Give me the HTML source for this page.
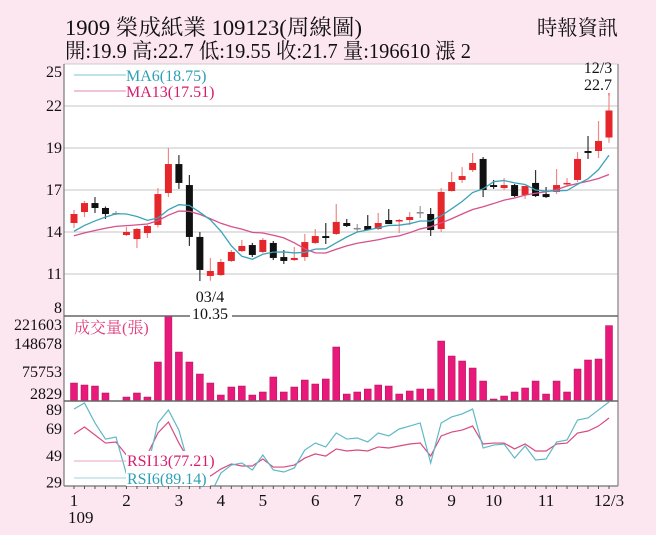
<!DOCTYPE html>
<html><head><meta charset="utf-8">
<style>
html,body{margin:0;padding:0;background:#fce6f0;}
svg{display:block;font-family:"Liberation Serif","Noto Serif CJK SC",serif;}
</style></head>
<body>
<svg id="chart" width="656" height="535" viewBox="0 0 656 535" xmlns="http://www.w3.org/2000/svg">
<rect x="0" y="0" width="656" height="535" fill="#fce6f0"/>
<text x="65" y="35" font-size="22" textLength="297" lengthAdjust="spacingAndGlyphs" fill="#111">1909  榮成紙業 109123(周線圖)</text>
<text x="65" y="58" font-size="21" textLength="406" lengthAdjust="spacingAndGlyphs" fill="#111">開:19.9 高:22.7 低:19.55 收:21.7 量:196610 漲 2</text>
<text x="537" y="35" font-size="21" textLength="81" lengthAdjust="spacingAndGlyphs" fill="#111">時報資訊</text>
<rect x="64" y="64" width="554" height="422" fill="#fff"/>
<g id="grid"></g>
<g id="candles"></g>
<g id="ma"></g>
<g id="vol"></g>
<clipPath id="rsiclip"><rect x="64" y="401" width="554" height="85"/></clipPath>
<g id="rsi" clip-path="url(#rsiclip)"></g>
<g id="frame"></g>
<g id="labels"></g>
</svg>
<script>
const closesPrev=[13.0,13.1,12.9,13.2,13.0,13.1,13.3,13.2,13.4,13.3,13.5,13.7];
const opens=[14.2,14.93,15.53,15.2,14.87,13.4,13.13,13.53,14.07,16.2,18.13,16.73,13.27,10.67,10.73,11.67,12.33,12.73,12.27,12.87,11.93,11.73,11.93,12.87,13.33,13.47,14.2,13.87,14.0,13.8,14.4,14.33,14.4,14.93,14.8,13.8,16.33,17.07,17.73,18.47,16.73,16.53,16.73,16.07,16.87,16.13,16.27,16.8,17.07,19.0,19.0,19.9];
const highs=[15.07,15.67,15.93,15.3,15.0,13.93,13.87,14.07,16.53,19.2,18.73,17.4,13.6,11.87,11.8,12.4,13.07,12.87,13.2,13.0,12.4,12.6,13.47,13.8,14.2,15.47,14.47,14.13,14.73,14.87,15.13,14.47,14.93,15.33,15.2,16.53,17.6,17.93,18.87,18.6,17.07,17.2,16.8,16.67,17.73,16.6,17.8,17.2,18.93,20.0,21.0,22.7];
const lows=[13.87,14.6,14.87,14.47,14.73,13.33,12.53,13.2,13.9,15.93,16.47,12.67,10.33,10.35,10.67,11.6,12.27,11.93,12.2,11.73,11.47,11.67,11.67,12.8,12.8,13.4,13.93,13.6,13.8,13.73,14.13,13.53,14.07,14.53,13.33,13.6,16.3,16.87,17.6,15.93,16.47,16.4,15.93,15.8,15.93,15.87,16.13,16.67,16.93,18.47,18.53,19.55];
const closes=[14.8,15.53,15.2,14.8,14.87,13.6,13.8,14.0,16.13,18.13,16.87,13.27,11.07,11.0,11.6,12.27,12.67,12.07,13.07,11.87,11.67,11.87,12.93,13.33,13.2,14.27,14.0,13.87,13.73,14.2,14.13,14.4,14.6,14.93,13.73,16.27,16.93,17.33,18.2,16.4,16.6,16.73,16.0,16.67,16.0,15.93,16.73,16.87,18.47,18.87,19.67,21.7];
const volumes=[46900,41700,39100,20900,0,10400,20900,10400,101700,221603,127700,101700,70400,46900,15600,36500,39100,15600,23500,62600,23500,36500,54700,44300,57400,140800,18200,23500,31300,41700,39100,18200,26100,31300,31300,156400,117300,104300,86000,52100,5200,13000,23500,33900,52100,18200,52100,23500,83400,106900,109500,196610];
const rsi6=[83.9,88.4,73.5,61.5,63.0,35.4,28,40,73.5,83.2,68.2,40,22,20,36.1,42.1,43.6,38.4,49.6,38.4,36.9,39.9,53.3,58.5,55.6,66.0,61.5,62.3,59.3,66.0,63.8,69.0,71.2,73.5,43.6,73.5,78.0,80.2,83.9,54.8,57.0,57.8,47.3,56.3,45.9,46.6,59.3,60.8,75.7,77.2,83.2,89.14];
const rsi13=[65.3,70.5,64.5,58.5,59.3,49.6,45,50,66.0,74.2,58.5,45,38,33.9,39.1,42.9,41.4,41.4,46.6,40.6,40.6,42.1,47.3,50.4,48.8,54.1,52.6,53.3,52.6,55.6,54.8,56.3,57.8,58.5,48.8,63.8,66.7,68.2,71.2,57.8,58.5,58.5,54.1,57.8,52.6,52.6,57.8,58.5,66.0,67.5,71.2,77.21];
const priceTickLabels=["25","22","19","17","14","11","8"];
const volTicks=[221603,148678,75753,2829];
const rsiTicks=[89,69,49,29];
const monthLabels=["1","2","3","4","5","6","7","8","9","10","11","12/3"];
const monthWeekIndex=[0,5,10,14,18,23,27,31,36,40,45,51];

const NS="http://www.w3.org/2000/svg";
const N=closes.length;
const X0=74, X1=609;
function xs(i){return X0+i*(X1-X0)/(N-1);}
function py(v){return 316-(v-8)*15;}
function vy(v){return 401-v*85/221603;}
function ry(v){return 402+(89.14-v)*1.34;}
function mk(tag,attrs,parent){const e=document.createElementNS(NS,tag);for(const k in attrs)e.setAttribute(k,attrs[k]);parent.appendChild(e);return e;}
const G=id=>document.getElementById(id);

// grid
for(let k=1;k<=5;k++){
  const y=106+(k-1)*42;
  const l=mk('line',{x1:64,x2:618,y1:y,y2:y,stroke:'#d8d8d8','stroke-width':1.5},G('grid'));
  
  
}
// candles
for(let i=0;i<N;i++){
  const x=xs(i),o=opens[i],c=closes[i],up=c>o,doji=c===o;
  const g=mk('g',{},G('candles'));
  
  
  const col=doji?'#888':(up?'#e5262b':'#111');
  mk('line',{x1:x,x2:x,y1:py(highs[i]),y2:py(lows[i]),stroke:doji?'#999':(up?'#ec8a8a':'#333'),'stroke-width':1.2},g);
  const top=py(Math.max(o,c)),bot=py(Math.min(o,c));
  mk('rect',{x:x-3.5,y:top,width:7,height:Math.max(bot-top,1.5),fill:col},g);
}
// moving averages
const all=closesPrev.concat(closes);
function ma(n){const out=[];for(let i=0;i<N;i++){const j=i+closesPrev.length;let s=0;for(let k=j-n+1;k<=j;k++)s+=all[k];out.push(s/n);}return out;}
const ma6=ma(6),ma13=ma(13);
const pl13=mk('polyline',{points:ma13.map((v,i)=>xs(i)+','+py(v)).join(' '),fill:'none',stroke:'#d6508c','stroke-width':1.3},G('ma'));


const pl6=mk('polyline',{points:ma6.map((v,i)=>xs(i)+','+py(v)).join(' '),fill:'none',stroke:'#3aa3b8','stroke-width':1.3},G('ma'));


// volume
for(let i=0;i<N;i++){
  if(volumes[i]<=0)continue;
  const r=mk('rect',{x:xs(i)-3.5,y:vy(volumes[i]),width:7,height:401-vy(volumes[i]),fill:'#e8197a',stroke:'#b0105a','stroke-width':0.5},G('vol'));
  
  
}
// RSI
const r13=mk('polyline',{points:rsi13.map((v,i)=>xs(i)+','+ry(v)).join(' '),fill:'none',stroke:'#d84a80','stroke-width':1.2},G('rsi'));


const r6=mk('polyline',{points:rsi6.map((v,i)=>xs(i)+','+ry(v)).join(' '),fill:'none',stroke:'#5fb8c8','stroke-width':1.2},G('rsi'));



// frame
const F=G('frame');
mk('line',{x1:64,x2:618,y1:64,y2:64,stroke:'#ccc','stroke-width':1},F);
mk('line',{x1:64,x2:64,y1:64,y2:486,stroke:'#777','stroke-width':1.2},F);
mk('line',{x1:618,x2:618,y1:64,y2:486,stroke:'#999','stroke-width':1.5},F);
mk('line',{x1:64,x2:618,y1:316,y2:316,stroke:'#666','stroke-width':1.5},F);
mk('line',{x1:64,x2:618,y1:401,y2:401,stroke:'#666','stroke-width':1.5},F);
mk('line',{x1:64,x2:618,y1:486,y2:486,stroke:'#888','stroke-width':1.5},F);
for(let i=0;i<N;i++){mk('line',{x1:xs(i),x2:xs(i),y1:486,y2:489,stroke:'#555','stroke-width':1},F);}

// labels
const L=G('labels');
function txt(s,x,y,attrs,name){const t=mk('text',Object.assign({x:x,y:y,'font-size':16,fill:'#111'},attrs),L);t.textContent=s;return t;}
priceTickLabels.forEach((s,k)=>{const y=k===0?72:(k===6?308:106+(k-1)*42);txt(s,62,y+5,{'text-anchor':'end'},'price-tick-label');});
volTicks.forEach(v=>{let y=vy(v);y=Math.min(Math.max(y,325),394);txt(String(v),62,y+5,{'text-anchor':'end'},'volume-tick-label');});
rsiTicks.forEach(v=>{let y=ry(v);if(v===89)y=410;txt(String(v),62,y+5,{'text-anchor':'end'},'rsi-tick-label');});
monthLabels.forEach((s,k)=>{txt(s,xs(monthWeekIndex[k]),506,{'text-anchor':k===11?'middle':'middle','font-size':17},'x-tick-label');});
txt('109',74,523,{'text-anchor':'start','font-size':17,dx:-6},'year-label');
// legends
mk('line',{x1:74,x2:126,y1:75,y2:75,stroke:'#7cc4d2','stroke-width':1},L);
txt('MA6(18.75)',126,81,{fill:'#2e9fb6','font-size':16},'ma6-legend');
mk('line',{x1:74,x2:126,y1:91,y2:91,stroke:'#e08ab0','stroke-width':1},L);
txt('MA13(17.51)',126,97,{fill:'#d81b6a','font-size':16},'ma13-legend');
txt('成交量(張)',74,333,{fill:'#e0407f','font-size':16},'volume-legend');
mk('line',{x1:74,x2:127,y1:461,y2:461,stroke:'#e8a0c0','stroke-width':1},L);
mk('rect',{x:126,y:451,width:88,height:18,fill:'#fff'},L);
txt('RSI13(77.21)',127,466,{fill:'#d81b6a','font-size':16},'rsi13-legend');
mk('line',{x1:74,x2:127,y1:478,y2:478,stroke:'#9fd3dd','stroke-width':1},L);
mk('rect',{x:126,y:469,width:84,height:17,fill:'#fff'},L);
txt('RSI6(89.14)',127,484,{fill:'#2e9fb6','font-size':16},'rsi6-legend');
// annotations
txt('12/3',598,73,{'text-anchor':'middle','font-size':16},'high-date-annotation');
txt('22.7',598,90,{'text-anchor':'middle','font-size':16},'high-value-annotation');
mk('line',{x1:609,x2:609,y1:93,y2:py(22.7),stroke:'#e5262b','stroke-width':1},L);
txt('03/4',210,302,{'text-anchor':'middle','font-size':16},'low-date-annotation');
mk('rect',{x:190,y:307,width:42,height:11,fill:'#fff'},L);
txt('10.35',210,319,{'text-anchor':'middle','font-size':16},'low-value-annotation');
</script>
</body></html>
